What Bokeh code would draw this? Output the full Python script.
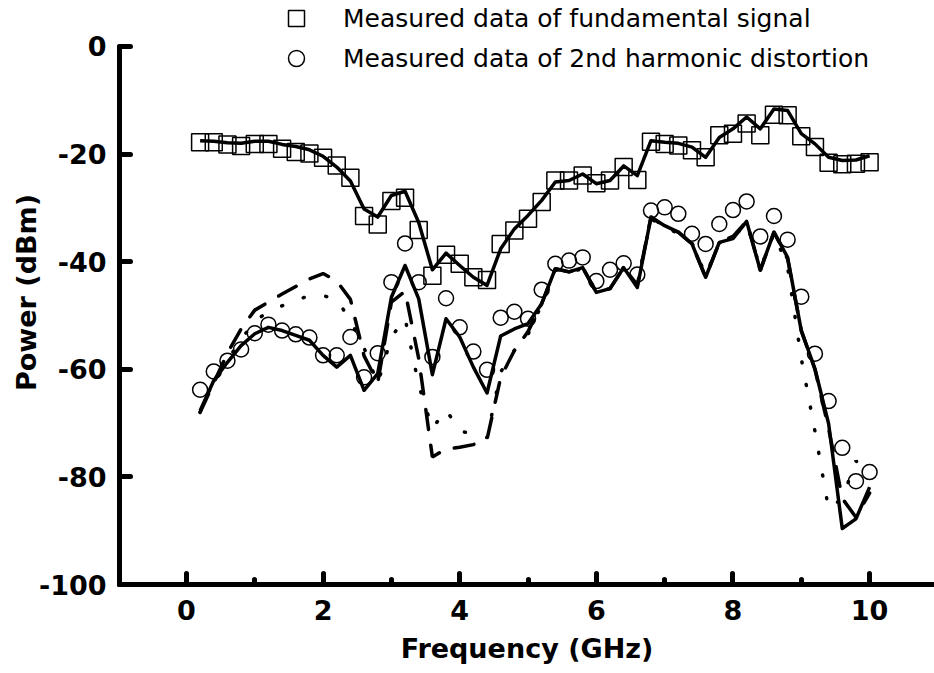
from bokeh.plotting import figure
from bokeh.models import Range1d, FixedTicker, Legend, LegendItem, PrintfTickFormatter
from bokeh.embed import file_html
from bokeh.resources import INLINE

freq = [0.2, 0.4, 0.6, 0.8, 1.0, 1.2, 1.4, 1.6, 1.8, 2.0,
        2.2, 2.4, 2.6, 2.8, 3.0, 3.2, 3.4, 3.6, 3.8, 4.0,
        4.2, 4.4, 4.6, 4.8, 5.0, 5.2, 5.4, 5.6, 5.8, 6.0,
        6.2, 6.4, 6.6, 6.8, 7.0, 7.2, 7.4, 7.6, 7.8, 8.0,
        8.2, 8.4, 8.6, 8.8, 9.0, 9.2, 9.4, 9.6, 9.8, 10.0]

fund_measured = [-17.8, -17.8, -18.2, -18.5, -18.1, -18.1, -19.0, -19.6, -19.9, -20.7,
                 -22.1, -24.4, -31.5, -33.1, -28.7, -28.1, -34.1, -42.6, -38.7, -40.4,
                 -42.9, -43.4, -36.7, -34.2, -32.0, -28.9, -24.9, -24.9, -24.0, -25.4,
                 -24.9, -22.4, -24.8, -17.7, -18.1, -18.4, -19.3, -20.6, -16.5, -16.2,
                 -14.3, -16.5, -12.7, -12.8, -16.7, -18.7, -21.6, -21.9, -21.8, -21.5]

fund_simulated = [-17.5, -17.6, -17.9, -18.0, -17.6, -17.6, -18.2, -18.6, -19.2, -20.4,
                  -22.4, -25.0, -30.2, -31.7, -27.7, -26.9, -32.7, -41.5, -38.4, -40.7,
                  -42.9, -44.4, -37.6, -33.9, -31.4, -28.6, -25.2, -24.9, -23.7, -25.5,
                  -24.9, -22.2, -24.0, -17.5, -17.8, -18.0, -18.7, -20.6, -16.9, -15.3,
                  -13.1, -15.3, -11.6, -11.9, -16.2, -18.1, -20.6, -21.2, -21.1, -20.3]

harm_measured = [-63.8, -60.4, -58.4, -56.3, -53.3, -51.7, -52.8, -53.5, -54.1, -57.4,
                 -57.4, -54.0, -61.5, -57.0, -43.8, -36.6, -43.8, -57.7, -46.8, -52.2,
                 -56.7, -60.1, -50.4, -49.3, -50.6, -45.2, -40.4, -39.8, -39.2, -43.6,
                 -41.5, -40.3, -42.4, -30.5, -29.9, -31.1, -34.8, -36.7, -33.0, -30.4,
                 -28.8, -35.3, -31.5, -35.9, -46.5, -57.1, -65.9, -74.6, -80.8, -79.1]

harm_simulated = [-67.7, -62.1, -58.7, -55.6, -53.4, -52.2, -52.8, -53.7, -54.6, -57.4,
                  -59.6, -57.4, -63.9, -60.8, -46.6, -40.7, -46.9, -61.0, -50.6, -54.0,
                  -59.6, -64.4, -53.8, -52.5, -51.5, -47.8, -41.3, -41.9, -41.1, -45.7,
                  -45.0, -41.1, -44.8, -31.7, -33.3, -34.5, -36.7, -42.9, -36.4, -35.7,
                  -32.5, -41.6, -34.5, -39.2, -52.8, -59.9, -70.1, -89.6, -87.8, -81.9]

harm_sim_dashed = [-68.0, -62.5, -57.0, -52.5, -49.0, -47.5, -46.0, -44.6, -43.2, -42.2,
                   -43.6, -47.0, -57.5, -62.5, -47.5, -45.5, -58.0, -76.3, -74.8, -74.5,
                   -74.0, -73.0, -61.5, -56.5, -53.0, -47.8, -41.3, -41.9, -41.1, -45.7,
                   -45.0, -41.1, -44.3, -31.7, -33.5, -34.5, -36.7, -42.9, -36.4, -35.3,
                   -32.5, -41.6, -34.5, -39.5, -52.8, -60.0, -71.0, -84.0, -87.5, -83.0]

harm_sim_dotted = [-68.0, -62.0, -58.3, -54.5, -51.0, -49.3, -48.2, -47.2, -46.3, -46.3,
                   -47.0, -50.9, -56.0, -62.7, -54.0, -50.5, -63.0, -71.0, -67.5, -71.5,
                   -72.0, -72.7, -60.5, -56.5, -53.5, -48.0, -41.5, -42.0, -41.3, -45.5,
                   -45.0, -41.0, -44.0, -32.0, -33.7, -34.7, -36.5, -42.5, -36.5, -35.5,
                   -32.8, -41.3, -34.7, -41.0, -58.0, -71.5, -86.0, -84.0, -77.0, -80.0]

x_ticks = [0, 2, 4, 6, 8, 10]
x_minor_ticks = [1, 3, 5, 7, 9]
y_ticks = [-100, -80, -60, -40, -20, 0]

p = figure(width=934, height=673, output_backend="svg", toolbar_location=None,
           x_range=Range1d(-0.98, 10.95), y_range=Range1d(-100, 8.55),
           min_border_left=119, min_border_right=0, min_border_top=0, min_border_bottom=89)
p.outline_line_color = None
p.xgrid.visible = False
p.ygrid.visible = False
p.background_fill_color = "white"

xa = p.xaxis[0]
ya = p.yaxis[0]
xa.ticker = FixedTicker(ticks=x_ticks, minor_ticks=x_minor_ticks)
ya.ticker = FixedTicker(ticks=y_ticks, minor_ticks=[])
xa.formatter = PrintfTickFormatter(format="%d")
ya.formatter = PrintfTickFormatter(format="%d")
ya.bounds = (-100, 0)
for ax in (xa, ya):
    ax.axis_line_width = 5
    ax.axis_line_cap = "round"
    ax.major_tick_line_width = 5
    ax.major_tick_line_cap = "round"
    ax.major_tick_in = 11
    ax.major_tick_out = 0
    ax.minor_tick_line_width = 5
    ax.minor_tick_line_cap = "round"
    ax.minor_tick_in = 5
    ax.minor_tick_out = 0
    ax.major_label_text_font = "DejaVu Sans"
    ax.major_label_text_font_style = "bold"
    ax.major_label_text_font_size = "27px"
    ax.major_label_text_color = "black"
    ax.axis_label_text_font = "DejaVu Sans"
    ax.axis_label_text_font_style = "bold"
    ax.axis_label_text_font_size = "27px"
    ax.axis_label_text_color = "black"
xa.axis_label = "Frequency (GHz)"
ya.axis_label = "Power (dBm)"
xa.major_label_standoff = 15
xa.axis_label_standoff = 10
ya.major_label_standoff = 13
ya.axis_label_standoff = -6

p.line(freq, fund_simulated, line_color="black", line_width=3.5, line_join="round")
p.line(freq, harm_simulated, line_color="black", line_width=3.5, line_join="round")
p.line(freq, harm_sim_dashed, line_color="black", line_width=3.5, line_dash="20 16", line_cap="round")
p.line(freq, harm_sim_dotted, line_color="black", line_width=3.5, line_dash="1 22", line_cap="round")

sq = p.scatter(freq, fund_measured, marker="square", size=17, fill_color=None,
               line_color="black", line_width=1.5)
ci = p.scatter(freq, harm_measured, marker="circle", size=15, fill_color=None,
               line_color="black", line_width=1.5)

legend = Legend(items=[LegendItem(label="Measured data of fundamental signal", renderers=[sq]),
                       LegendItem(label="Measured data of 2nd harmonic distortion", renderers=[ci])],
                location=(157, 506), orientation="vertical",
                glyph_width=40, glyph_height=40, label_height=40, spacing=0,
                padding=0, margin=0, label_standoff=27,
                border_line_color=None, background_fill_alpha=0,
                label_text_font="DejaVu Sans", label_text_font_size="25px",
                label_text_color="black")
p.add_layout(legend)

open("out.html", "w").write(file_html(p, INLINE))
